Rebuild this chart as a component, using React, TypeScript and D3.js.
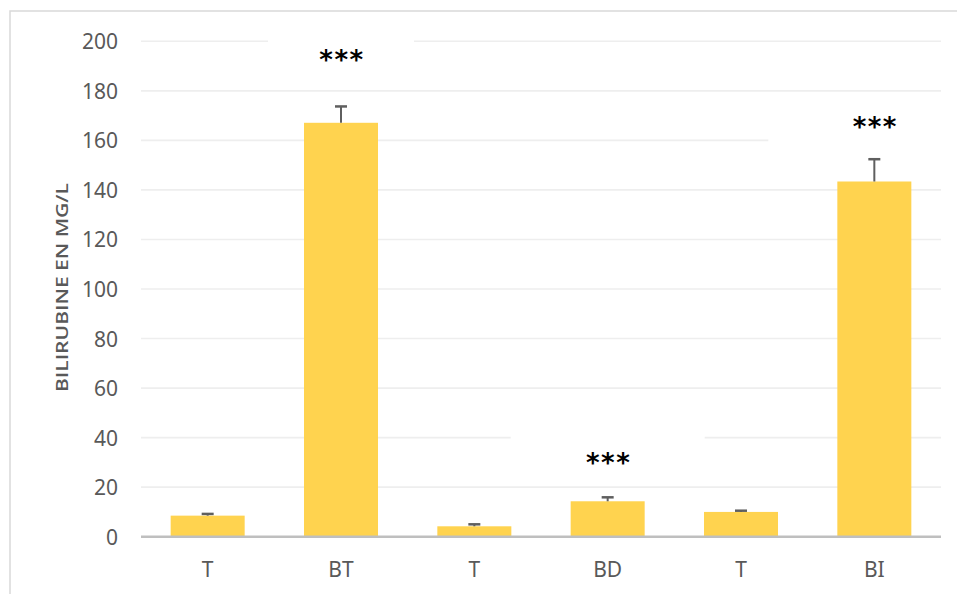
import React from "react";
import * as d3 from "d3";

const categories = ["T", "BT", "T", "BD", "T", "BI"];
const means = [8.5, 167.1, 4.2, 14.3, 10.0, 143.4];
const errors = [0.7, 6.6, 0.8, 1.6, 0.5, 9.0];
const stars = ["", "***", "", "***", "", "***"];
const starLevels = [0, 195, 0, 32, 0, 168];
const yTicks = [0, 20, 40, 60, 80, 100, 120, 140, 160, 180, 200];
const yTitle = "BILIRUBINE EN MG/L";

const W = 957;
const H = 594;
const plotLeft = 141;
const plotRight = 941;
const yZero = 536.7;
const yTop = 41.3;
const boxWidths = [0, 146, 0, 194, 0, 212];

export default function App() {
  const x = d3
    .scaleBand<number>()
    .domain(categories.map((_, i) => i))
    .range([plotLeft, plotRight])
    .paddingInner(0.445)
    .paddingOuter(0.2225);
  const y = d3.scaleLinear().domain([0, 200]).range([yZero, yTop]);
  const bw = x.bandwidth();
  const font = "'Noto Sans', 'Open Sans', sans-serif";

  return (
    <svg
      width={W}
      height={H}
      style={{ position: "absolute", left: 0, top: 0, background: "#fff" }}
    >
      <rect x={0} y={0} width={W} height={H} fill="#fff" />
      <rect
        x={10}
        y={11}
        width={1200}
        height={1200}
        fill="none"
        stroke="#d9d9d9"
        strokeWidth={1.5}
      />
      {/* gridlines */}
      {yTicks
        .filter((t) => t > 0)
        .map((t) => (
          <line
            key={"g" + t}
            x1={plotLeft}
            x2={plotRight}
            y1={y(t)}
            y2={y(t)}
            stroke="#eeeeee"
            strokeWidth={1.6}
          />
        ))}
      {/* annotation text boxes (white fill) */}
      {stars.map((s, i) => {
        if (!s) return null;
        const cx = (x(i) as number) + bw / 2;
        const cy = y(starLevels[i]);
        const bwid = boxWidths[i];
        const left = cx - bwid / 2;
        const right = Math.min(cx + bwid / 2, plotRight + 1);
        return (
          <rect
            key={"b" + i}
            x={left}
            y={cy - 22}
            width={right - left}
            height={44}
            fill="#fff"
          />
        );
      })}
      {/* bars */}
      {means.map((v, i) => (
        <rect
          key={"r" + i}
          x={x(i)}
          y={y(v)}
          width={bw}
          height={yZero - y(v)}
          fill="#FFD34F"
        />
      ))}
      {/* error bars */}
      {means.map((v, i) => {
        const cx = (x(i) as number) + bw / 2;
        const top = y(v + errors[i]);
        return (
          <g key={"e" + i} stroke="#5f5f5f">
            <line x1={cx} x2={cx} y1={y(v)} y2={top} strokeWidth={2} />
            <line x1={cx - 6} x2={cx + 6} y1={top} y2={top} strokeWidth={2.5} />
          </g>
        );
      })}
      {/* x axis line */}
      <line
        x1={plotLeft}
        x2={plotRight}
        y1={yZero}
        y2={yZero}
        stroke="#bfbfbf"
        strokeWidth={2.6}
      />
      {/* y tick labels */}
      {yTicks.map((t) => (
        <text
          key={"t" + t}
          x={118}
          y={y(t) + 8}
          textAnchor="end"
          fontFamily={font}
          fontSize={21}
          fill="#595959"
        >
          {t}
        </text>
      ))}
      {/* category labels */}
      {categories.map((c, i) => (
        <text
          key={"c" + i}
          x={(x(i) as number) + bw / 2}
          y={577}
          textAnchor="middle"
          fontFamily={font}
          fontSize={21}
          fill="#595959"
        >
          {c}
        </text>
      ))}
      {/* stars */}
      {stars.map((s, i) =>
        s ? (
          <text
            key={"s" + i}
            x={(x(i) as number) + bw / 2 + 1}
            y={y(starLevels[i]) + 15}
            textAnchor="middle"
            fontFamily="'DejaVu Sans', sans-serif"
            fontWeight="bold"
            fontSize={26}
            letterSpacing={1.5}
            fill="#000"
          >
            {s}
          </text>
        ) : null
      )}
      {/* y axis title */}
      <text
        transform={`translate(61,287.5) rotate(-90)`}
        textAnchor="middle"
        dominantBaseline="central"
        fontFamily="'Open Sans', sans-serif"
        fontWeight={600}
        fontSize={17}
        fill="#595959"
        textLength={209}
        lengthAdjust="spacingAndGlyphs"
      >
        {yTitle}
      </text>
    </svg>
  );
}
